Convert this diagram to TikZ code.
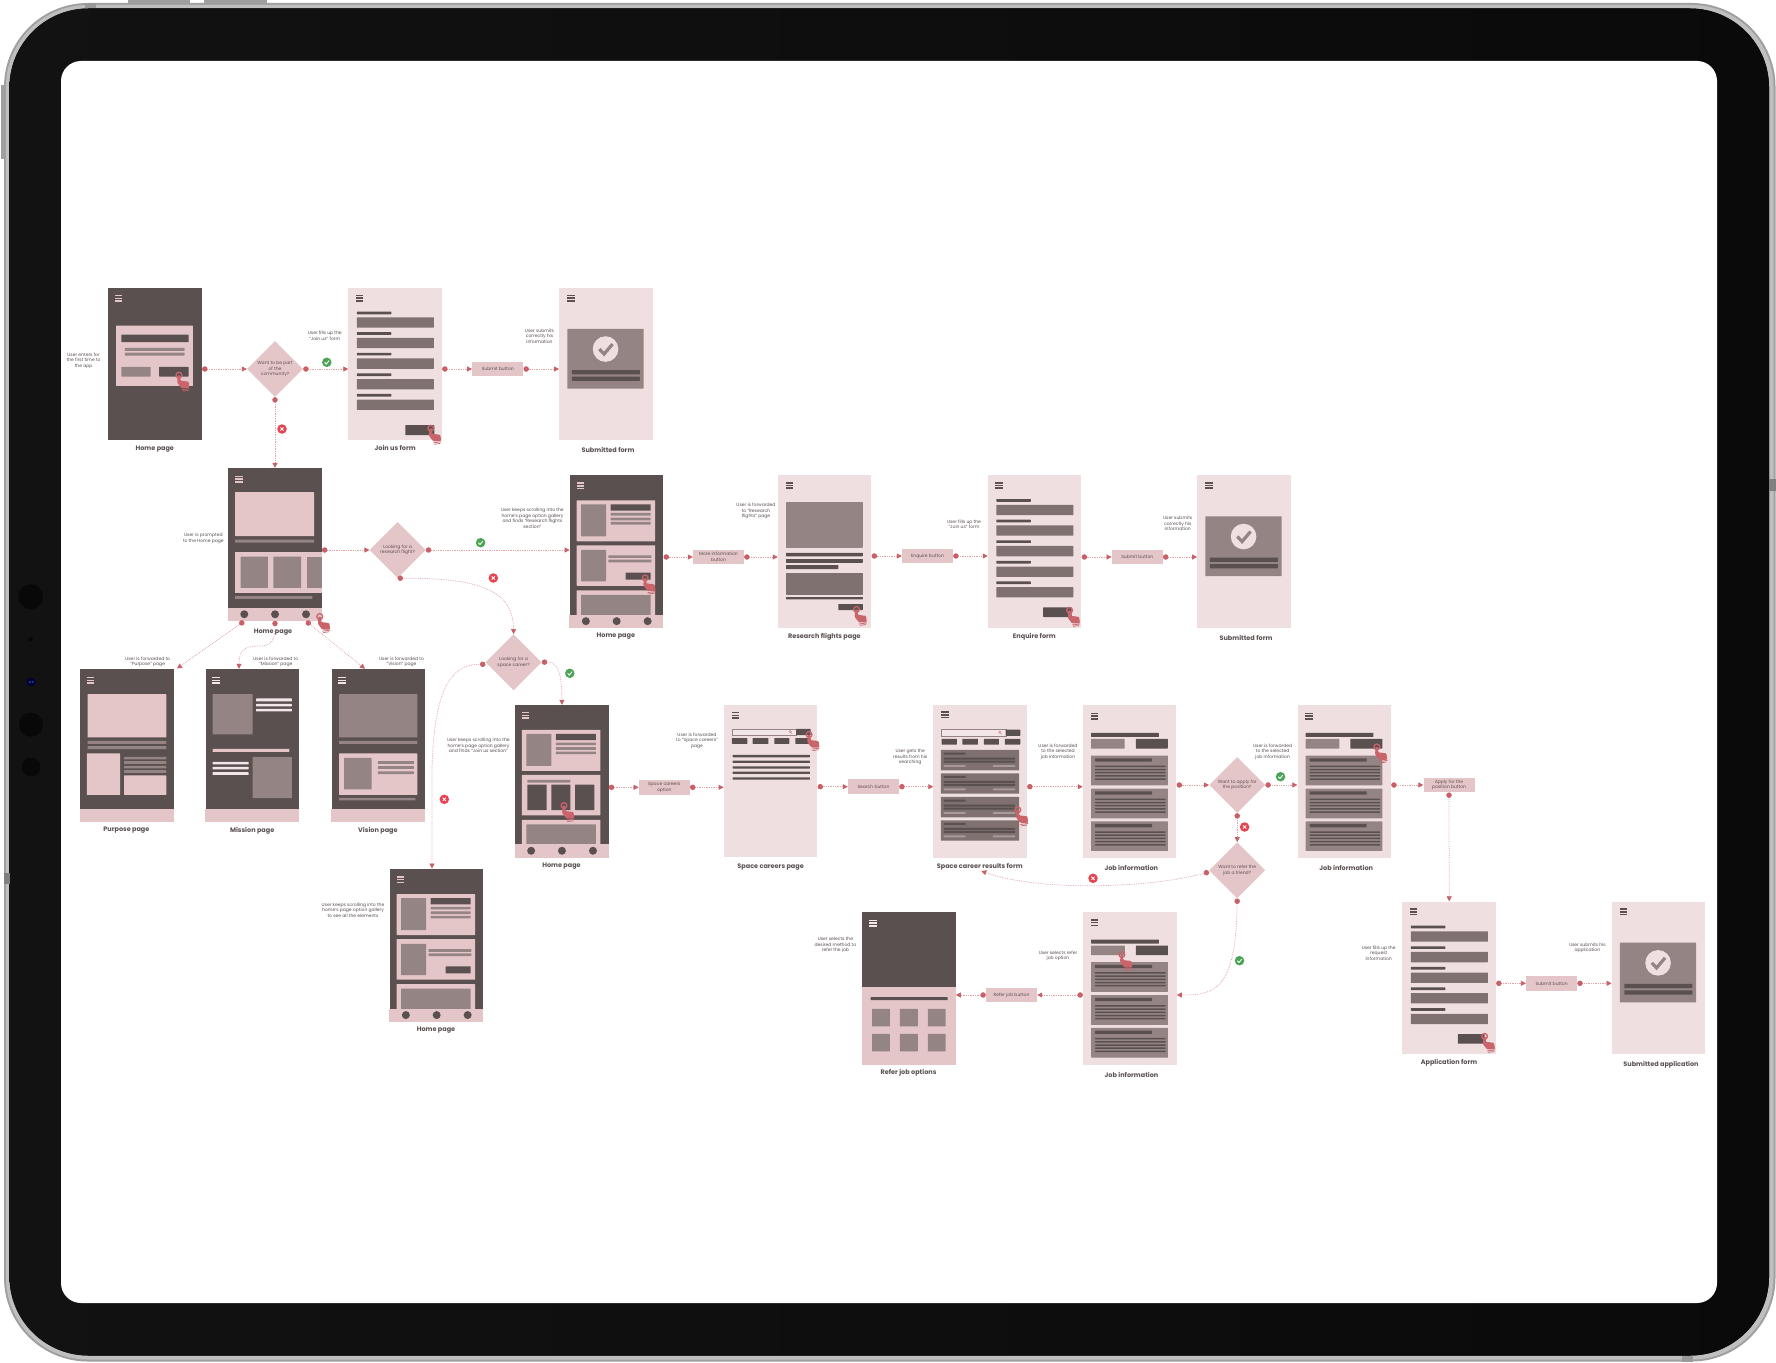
\documentclass[tikz,border=0pt]{standalone}
\usepackage{fontspec}
\setmainfont{Poppins}
\usepackage{tikz}
\usetikzlibrary{arrows.meta,shapes.geometric}

\definecolor{screendark}{HTML}{5A5050}
\definecolor{screenlight}{HTML}{EFDFE1}
\definecolor{pinkfill}{HTML}{E5C6C8}
\definecolor{graymid}{HTML}{958484}
\definecolor{graydeep}{HTML}{7F7170}
\definecolor{graysoft}{HTML}{A89A9A}
\definecolor{paleline}{HTML}{F3E6E8}
\definecolor{tapred}{HTML}{C8646A}
\definecolor{flowred}{HTML}{C95F67}
\definecolor{flowline}{HTML}{E2A4A9}
\definecolor{okgreen}{HTML}{4CA355}
\definecolor{nored}{HTML}{E6424F}

\tikzset{
    phone/.style={rectangle, inner sep=0pt, minimum width=93.5pt, minimum height=152.5pt},
    phonedark/.style={phone, fill=screendark},
    phonelight/.style={phone, fill=screenlight},
    decision/.style={diamond, aspect=1, inner sep=0pt, minimum size=56pt, fill=pinkfill, align=center,
        text=screendark, font=\fontsize{4.5}{5.5}\selectfont},
    action/.style={rectangle, inner sep=0pt, minimum width=51pt, minimum height=14.5pt, fill=pinkfill, align=center,
        text=screendark, font=\fontsize{4.5}{5.5}\selectfont},
    note/.style={inner sep=0pt, yshift=-0.5pt, align=center, text=screendark, font=\fontsize{4.5}{5.5}\selectfont},
    title/.style={inner sep=0pt, yshift=-1pt, text=screendark, font=\fontsize{6.5}{7.5}\selectfont\bfseries},
    flow/.style={draw=flowline, line width=0.75pt, densely dotted,
        {Circle[length=5.4pt,color=flowred,fill=flowred]}-{Triangle[length=5pt,width=5pt,color=flowred,fill=flowred]}},
    okdot/.style={circle, inner sep=0pt, minimum size=9.5pt, fill=okgreen},
    nodot/.style={circle, inner sep=0pt, minimum size=9.5pt, fill=nored}
}

% one flat bar: colour, then two corners
\newcommand{\bx}[5]{\fill[#1, rounded corners=0.4pt] (#2,#3) rectangle (#4,#5);}
\newcommand{\burger}[3]{
    \fill[#3] (#1,#2) rectangle ++(7.5,1.6);
    \fill[#3] (#1,#2+2.7) rectangle ++(7.5,1.6);
    \fill[#3] (#1,#2+5.4) rectangle ++(7.5,1.6);
}
% the finger that taps
\newcommand{\tap}[2]{
    \begin{scope}[shift={(#1,#2)}]
        \draw[tapred, line width=1.3pt] (0,0) circle (2.9);
        \fill[tapred, rounded corners=1pt] (-1.3,0) -- (1.3,0) -- (1.3,5.5) -- (9.6,6.5) -- (10.4,13) -- (2.5,13) -- (-1.8,7.5) -- cycle;
        \draw[tapred, line width=0.7pt] (2.5,14.6) -- (10.5,13.6) (3.5,16) -- (9.5,15.2);
    \end{scope}
}
\newcommand{\yesmark}[3]{
    \node[okdot] (#1) at (#2,#3) {};
    \draw[white, line width=0.9pt] ([shift={(-2.2,0)}]#1.center) -- ++(1.6,1.8) -- ++(2.9,-3.4);
}
\newcommand{\nomark}[3]{
    \node[nodot] (#1) at (#2,#3) {};
    \draw[white, line width=0.8pt] ([shift={(-1.6,-1.6)}]#1.center) -- ++(3.2,3.2) ([shift={(-1.6,1.6)}]#1.center) -- ++(3.2,-3.2);
}
% footer with the three round tabs
\newcommand{\tabbar}[1]{
    \fill[pinkfill] (-0.2,#1) rectangle (93.7,152.7);
    \fill[screendark] (16.2,#1+6.4) circle (4);
    \fill[screendark] (47,#1+6.4) circle (4);
    \fill[screendark] (78,#1+6.4) circle (4);
}
% the gallery of the home page: first card, then a second one, then the one cut by the footer
\newcommand{\gallerytop}{
    \burger{7}{7}{pinkfill}
    \bx{pinkfill}{7}{25}{85.4}{66}
    \bx{graymid}{11.5}{29}{36.4}{61}
    \bx{screendark}{41}{29}{81}{35.3}
    \bx{graymid}{41}{37.7}{81}{40.3}
    \bx{graymid}{41}{42.3}{81}{45}
    \bx{graymid}{41}{46.7}{81}{49.3}
    \bx{pinkfill}{7}{70}{85.4}{110.5}
    \bx{pinkfill}{7}{115}{85.4}{140}
    \bx{graymid}{11.5}{119.5}{81}{140}
    \tabbar{139.5}
}
\newcommand{\galleryform}{
    \bx{graymid}{11.5}{74.7}{36.4}{106}
    \bx{graymid}{38.8}{80}{81.8}{82.7}
    \bx{graymid}{38.8}{84.3}{81.8}{87}
    \bx{screendark}{56}{97.3}{81}{104.3}
}
% a form with five rows
\newcommand{\formrow}[1]{
    \bx{screendark}{8.6}{#1}{43}{#1+2.7}
    \bx{graydeep}{8.6}{#1+5.7}{85.6}{#1+16}
}
\newcommand{\formscreen}[1]{
    \burger{7.5}{7}{screendark}
    \formrow{#1}
    \formrow{#1+20.6}
    \formrow{#1+41.2}
    \formrow{#1+61.8}
    \formrow{#1+82.4}
}
% confirmation panel with the check
\newcommand{\donepanel}{
    \burger{8}{7}{screendark}
    \bx{graymid}{8.3}{41.3}{84.6}{101}
    \fill[screenlight] (46.5,61.5) circle (12.8);
    \draw[graymid, line width=3.2pt] (40.3,61.5) -- (45,66.5) -- (53.5,56.5);
    \bx{screendark}{12.7}{82.5}{80.8}{86.7}
    \bx{screendark}{12.7}{89}{80.8}{93.2}
}
% search field and the tabs under it
\newcommand{\searchrow}{
    \fill[paleline] (8.3,24.3) rectangle (72.4,30.5);
    \draw[graymid, line width=0.3pt] (8.3,24.3) rectangle (72.4,30.5);
    \draw[tapred, line width=0.3pt] (66.5,27) circle (1.2) (67.4,28) -- (68.4,29.2);
    \bx{screendark}{72.4}{24.3}{87}{30.5}
    \bx{screendark}{8.3}{33.5}{23.7}{39.3}
    \bx{screendark}{29}{33.5}{44.7}{39.3}
    \bx{screendark}{50.6}{33.5}{65.6}{39.3}
    \bx{screendark}{71.6}{33.5}{87}{39.3}
}
\newcommand{\resultcard}[1]{
    \bx{graydeep}{7.5}{#1}{85.8}{#1+20.4}
    \bx{screendark}{10.3}{#1+2.7}{32.4}{#1+4.7}
    \bx{screendark}{10.3}{#1+7.7}{81.9}{#1+9.7}
    \bx{screendark}{10.3}{#1+10.7}{81.9}{#1+12.7}
    \bx{graysoft}{10.3}{#1+15.2}{32.4}{#1+17}
    \bx{graysoft}{59.7}{#1+15.2}{81.9}{#1+17}
}
% the job page
\newcommand{\jobcard}[1]{
    \bx{graymid}{8.3}{#1}{85}{#1+29.7}
    \bx{screendark}{12.3}{#1+2.7}{69.3}{#1+6}
    \bx{screendark}{12.3}{#1+10}{82.8}{#1+11.5}
    \bx{screendark}{12.3}{#1+13.2}{82.8}{#1+14.7}
    \bx{screendark}{12.3}{#1+16.4}{82.8}{#1+17.9}
    \bx{screendark}{12.3}{#1+19.6}{82.8}{#1+21.1}
    \bx{screendark}{12.3}{#1+22.8}{82.8}{#1+24.3}
}
\newcommand{\jobscreen}{
    \burger{8}{7.3}{screendark}
    \bx{screendark}{8.3}{27.7}{76}{31.7}
    \bx{graymid}{8.3}{33.7}{41.9}{43.3}
    \bx{screendark}{53}{33.7}{85}{43.3}
    \jobcard{50.3}
    \jobcard{83.3}
    \jobcard{116}
}

\begin{document}
\begin{tikzpicture}[x=1pt,y=-1pt]
    \useasboundingbox (0,0) rectangle (1776,1362);
    \fill[white] (0,0) rectangle (1776,1362);

    % the side and top keys
    \fill[gray!75] (128,0.5) rectangle (190,5);
    \fill[gray!75] (204,0.5) rectangle (267,5);
    \fill[gray!75] (1,85) rectangle (6,159);

    % the tablet itself
    \fill[gray!75, rounded corners=84pt] (4,3) rectangle (1775.5,1361.5);
    \fill[gray!50, rounded corners=82pt] (6,5) rectangle (1773.5,1359.5);
    \fill[left color=black!93, right color=black!96, rounded corners=79pt] (9.5,8.5) rectangle (1769,1355.5);
    \fill[white, rounded corners=20pt] (61,61) rectangle (1717,1303);
    \fill[gray!80] (85,3) rectangle (96,8);
    \fill[gray!80] (1682,1355.5) rectangle (1693,1361.5);
    \fill[gray] (4,873) rectangle (9.5,884);
    \fill[gray] (1769,479) rectangle (1775.5,491);

    % the camera side
    \fill[black!97] (30.7,596.7) circle (12.5);
    \fill[black!97] (30.7,639) circle (2.5);
    \fill[black!97] (31,724.7) circle (12);
    \fill[black!97] (31,767) circle (9.5);
    \fill[black!80!blue] (31,682) circle (4.5);
    \fill[blue!60!cyan!70!black] (29.7,682) circle (1.2);
    \fill[blue!60!cyan!70!black] (32.6,682) circle (1.2);

    % the screens, row by row
    \node[phonedark] (home1) at (155.15,364) {};
    \node[phonelight] (joinform) at (395.2,364) {};
    \node[phonelight] (submitted1) at (606,364) {};
    \node[phonedark] (home2) at (275,544.3) {};
    \node[phonedark] (home3) at (616.6,551.7) {};
    \node[phonelight] (research) at (824.7,551.5) {};
    \node[phonelight] (enquire) at (1034.7,551.5) {};
    \node[phonelight] (submitted2) at (1244,551.5) {};
    \node[phonedark] (purpose) at (127,745.6) {};
    \node[phonedark] (mission) at (252.5,745.6) {};
    \node[phonedark] (vision) at (378.5,745.6) {};
    \node[phonedark] (home4) at (561.9,781.3) {};
    \node[phonelight] (careers) at (770.6,781) {};
    \node[phonelight] (results) at (980.2,781.7) {};
    \node[phonelight] (job1) at (1129.7,781.7) {};
    \node[phonelight] (job2) at (1344.3,781.7) {};
    \node[phonedark] (home5) at (436.6,945.6) {};
    \node[phonedark] (refer) at (908.8,988.5) {};
    \node[phonelight] (job3) at (1129.8,988.3) {};
    \node[phonelight] (appform) at (1449.2,977.8) {};
    \node[phonelight] (submitted3) at (1658.5,977.8) {};

    % what is on the screens
    \begin{scope}[shift={(home1.north west)}]
        \burger{6.7}{7.3}{pinkfill}
        \bx{pinkfill}{7.9}{38}{84.6}{98.3}
        \bx{screendark}{13.1}{47}{80.3}{54.6}
        \bx{graymid}{16.6}{60.3}{76.3}{63.3}
        \bx{graymid}{16.6}{65}{76.3}{68}
        \bx{graymid}{13.1}{79.3}{42.4}{89}
        \bx{screendark}{51}{79.3}{80.3}{89}
        \tap{70.8}{87.6}
    \end{scope}
    \begin{scope}[shift={(joinform.north west)}]
        \formscreen{24}
        \bx{screendark}{57}{137.6}{86}{147.6}
        \tap{82.5}{140.7}
    \end{scope}
    \begin{scope}[shift={(submitted1.north west)}]
        \donepanel
    \end{scope}
    \begin{scope}[shift={(home2.north west)}]
        \burger{7}{7.7}{pinkfill}
        \bx{pinkfill}{7}{24.3}{86}{68.3}
        \bx{graymid}{7}{71.7}{86}{74.7}
        \fill[pinkfill] (7,84.3) rectangle (93.7,124.7);
        \bx{graymid}{12.6}{88.7}{39.9}{120}
        \bx{graymid}{45.4}{88.7}{73}{120}
        \fill[graymid] (78.6,88.7) rectangle (93.7,120);
        \bx{graymid}{7}{128.3}{84.4}{131}
        \tabbar{140}
        \tap{91.7}{148.7}
    \end{scope}
    \begin{scope}[shift={(home3.north west)}]
        \gallerytop
        \galleryform
        \tap{75.5}{102.7}
    \end{scope}
    \begin{scope}[shift={(research.north west)}]
        \burger{8.2}{7}{screendark}
        \bx{graymid}{8.3}{27}{85}{72.7}
        \bx{screendark}{8.3}{77.7}{85}{81.3}
        \bx{screendark}{8.3}{84}{85}{87.7}
        \bx{screendark}{8.3}{90}{60.5}{94}
        \bx{graydeep}{8.3}{98}{85}{119.7}
        \bx{screendark}{8.3}{122}{85}{124.3}
        \bx{screendark}{60.5}{129}{85}{135}
        \tap{78.7}{134.3}
    \end{scope}
    \begin{scope}[shift={(enquire.north west)}]
        \formscreen{24}
        \bx{screendark}{55.4}{132.3}{83.8}{142}
        \tap{81.8}{135.3}
    \end{scope}
    \begin{scope}[shift={(submitted2.north west)}]
        \donepanel
    \end{scope}
    \begin{scope}[shift={(purpose.north west)}]
        \burger{6.9}{7.7}{pinkfill}
        \bx{pinkfill}{7.5}{25}{86.2}{68.3}
        \bx{graymid}{7.5}{71.7}{86.2}{74.7}
        \bx{graymid}{7.5}{77}{86.2}{80}
        \bx{pinkfill}{6.7}{84.3}{40}{125.7}
        \bx{graymid}{44}{87.7}{86.2}{90.3}
        \bx{graymid}{44}{92}{86.2}{94.7}
        \bx{graymid}{44}{96.7}{86.2}{99.3}
        \bx{graymid}{44}{101}{86.2}{103.7}
        \bx{pinkfill}{44}{106.3}{86.2}{125.7}
        \fill[pinkfill] (-0.2,140) rectangle (93.7,152.7);
    \end{scope}
    \begin{scope}[shift={(mission.north west)}]
        \burger{6.9}{7.7}{paleline}
        \bx{graymid}{7.1}{25}{47}{65.3}
        \bx{paleline}{50.6}{29.3}{86.2}{32.3}
        \bx{paleline}{50.6}{34.7}{86.2}{37.3}
        \bx{paleline}{50.6}{39.7}{86.2}{42.3}
        \bx{pinkfill}{7.1}{79.7}{83.8}{82.7}
        \bx{paleline}{7.1}{92.7}{43}{95.3}
        \bx{paleline}{7.1}{97.7}{43}{100.3}
        \bx{paleline}{7.1}{103}{43}{105.7}
        \bx{graymid}{47}{88}{86.2}{129}
        \fill[pinkfill] (-0.2,140) rectangle (93.7,152.7);
    \end{scope}
    \begin{scope}[shift={(vision.north west)}]
        \burger{6.9}{7.7}{paleline}
        \bx{graymid}{7.5}{25}{85.8}{68.3}
        \bx{graymid}{7.5}{71.7}{85.8}{74.7}
        \bx{pinkfill}{7.5}{84.3}{85.8}{125.7}
        \bx{graymid}{12.6}{88.7}{40}{120.3}
        \bx{graymid}{46.3}{92}{82.3}{94.7}
        \bx{graymid}{46.3}{97}{82.3}{99.7}
        \bx{graymid}{46.3}{102.3}{82.3}{105}
        \bx{graymid}{7.5}{128.7}{83.8}{131.3}
        \fill[pinkfill] (-0.2,140) rectangle (93.7,152.7);
    \end{scope}
    \begin{scope}[shift={(home4.north west)}]
        \gallerytop
        \bx{graymid}{12.3}{75}{55.4}{77.7}
        \bx{screendark}{12.3}{79.7}{31.6}{105.3}
        \bx{screendark}{36.4}{79.7}{55.4}{105.3}
        \bx{screendark}{60.1}{79.7}{79.5}{105.3}
        \tap{49}{100.7}
    \end{scope}
    \begin{scope}[shift={(careers.north west)}]
        \burger{7.9}{7.3}{screendark}
        \searchrow
        \bx{screendark}{9}{50.3}{86.2}{52.7}
        \bx{screendark}{9}{56}{86.2}{58.3}
        \bx{screendark}{9}{61.7}{86.2}{64}
        \bx{screendark}{9}{67}{86.2}{69.3}
        \bx{screendark}{9}{72.7}{86.2}{75}
        \tap{85.4}{30}
    \end{scope}
    \begin{scope}[shift={(results.north west)}]
        \burger{8}{6}{screendark}
        \searchrow
        \resultcard{44.7}
        \resultcard{68}
        \resultcard{91.7}
        \resultcard{115}
        \tap{84.5}{104.6}
    \end{scope}
    \begin{scope}[shift={(job1.north west)}]
        \jobscreen
    \end{scope}
    \begin{scope}[shift={(job2.north west)}]
        \jobscreen
        \tap{79.5}{41.6}
    \end{scope}
    \begin{scope}[shift={(home5.north west)}]
        \gallerytop
        \galleryform
    \end{scope}
    \begin{scope}[shift={(refer.north west)}]
        \burger{7.2}{7.7}{paleline}
        \fill[pinkfill] (-0.2,75.3) rectangle (93.7,152.7);
        \bx{screendark}{8.7}{85}{85.8}{88}
        \bx{graymid}{10.3}{96.7}{28}{114.3}
        \bx{graymid}{38}{96.7}{56}{114.3}
        \bx{graymid}{66}{96.7}{83.8}{114.3}
        \bx{graymid}{10.3}{121.7}{28}{139.3}
        \bx{graymid}{38}{121.7}{56}{139.3}
        \bx{graymid}{66}{121.7}{83.8}{139.3}
    \end{scope}
    \begin{scope}[shift={(job3.north west)}]
        \jobscreen
        \tap{39}{42.7}
    \end{scope}
    \begin{scope}[shift={(appform.north west)}]
        \formscreen{24.3}
        \bx{screendark}{55.7}{132.7}{82.3}{142.3}
        \tap{82.3}{135}
    \end{scope}
    \begin{scope}[shift={(submitted3.north west)}]
        \donepanel
    \end{scope}

    % the questions
    \node[decision] (dia1) at (275,369) {Want to be part\\of the\\community?};
    \node[decision] (dia2) at (397.6,550) {Looking for a\\research flight?};
    \node[decision] (dia3) at (513.6,662.3) {Looking for a\\space career?};
    \node[decision] (dia4) at (1237.2,785) {Want to apply for\\the position?};
    \node[decision] (dia5) at (1237.2,870.3) {Want to refer the\\job a friend?};

    % the buttons between the screens
    \node[action] (submitbtn1) at (497.8,369) {Submit button};
    \node[action] (morebtn) at (718.5,557) {More information\\button};
    \node[action] (enquirebtn) at (927.5,556) {Enquire button};
    \node[action] (submitbtn2) at (1137.3,557) {Submit button};
    \node[action] (spacebtn) at (664.3,787.3) {Space careers\\option};
    \node[action] (searchbtn) at (873.5,786.7) {Search button};
    \node[action] (applybtn) at (1449,785) {Apply for the\\position button};
    \node[action] (referbtn) at (1011.5,995) {Refer job button};
    \node[action] (submitbtn3) at (1551.6,983.3) {Submit button};

    % here I just create the free ends of the arrows
    \coordinate (tabA) at (244,621.3);
    \coordinate (tabB) at (275,620.8);
    \coordinate (tabC) at (306.2,621.3);
    \coordinate (purposein) at (177,668.5);
    \coordinate (missionin) at (239,668.8);
    \coordinate (visionin) at (365,668.8);
    \coordinate (home5in) at (432,868.5);
    \coordinate (resultsin) at (981.3,871);

    % draw the arrows
    \draw[flow] (home1.east |- dia1.west) -- (dia1.west);
    \draw[flow] (dia1.east) -- (joinform.west |- dia1.east);
    \draw[flow] (joinform.east |- submitbtn1.west) -- (submitbtn1.west);
    \draw[flow] (submitbtn1.east) -- (submitted1.west |- submitbtn1.east);
    \draw[flow] (dia1.south) -- (home2.north);
    \draw[flow] (home2.east |- dia2.west) -- (dia2.west);
    \draw[flow] (dia2.east) -- (home3.west |- dia2.east);
    \draw[flow] (dia2.south) .. controls (480,578) and (513,590) .. (dia3.north);
    \draw[flow] (home3.east |- morebtn.west) -- (morebtn.west);
    \draw[flow] (morebtn.east) -- (research.west |- morebtn.east);
    \draw[flow] (research.east |- enquirebtn.west) -- (enquirebtn.west);
    \draw[flow] (enquirebtn.east) -- (enquire.west |- enquirebtn.east);
    \draw[flow] (enquire.east |- submitbtn2.west) -- (submitbtn2.west);
    \draw[flow] (submitbtn2.east) -- (submitted2.west |- submitbtn2.east);
    \draw[flow] (tabA) -- (purposein);
    \draw[flow] (tabB) .. controls (275,640) and (272,646) .. (260,646) .. controls (244,646) and (239,650) .. (missionin);
    \draw[flow] (tabC) -- (visionin);
    \draw[flow] ([yshift=-2pt]dia3.west) .. controls (450,664) and (434,690) .. (432,770) -- (home5in);
    \draw[flow] (dia3.east) .. controls (560,661) and (561.8,680) .. (home4.north);
    \draw[flow] (home4.east |- spacebtn.west) -- (spacebtn.west);
    \draw[flow] (spacebtn.east) -- (careers.west |- spacebtn.east);
    \draw[flow] (careers.east |- searchbtn.west) -- (searchbtn.west);
    \draw[flow] (searchbtn.east) -- (results.west |- searchbtn.east);
    \draw[flow] (results.east |- searchbtn.east) -- (job1.west |- searchbtn.east);
    \draw[flow] (job1.east |- dia4.west) -- (dia4.west);
    \draw[flow] (dia4.east) -- (job2.west |- dia4.east);
    \draw[flow] (job2.east |- applybtn.west) -- (applybtn.west);
    \draw[flow] (applybtn.south) -- (appform.north);
    \draw[flow] (dia4.south) -- (dia5.north);
    \draw[flow] ([yshift=-1.7pt]dia5.west) .. controls (1150,888) and (1040,892) .. (resultsin);
    \draw[flow] (dia5.south) .. controls (1236,990) and (1215,995) .. (job3.east |- referbtn.east);
    \draw[flow] (job3.west |- referbtn.east) -- (referbtn.east);
    \draw[flow] (referbtn.west) -- (refer.east |- referbtn.west);
    \draw[flow] (appform.east |- submitbtn3.west) -- (submitbtn3.west);
    \draw[flow] (submitbtn3.east) -- (submitted3.west |- submitbtn3.east);

    % the yes and no marks
    \yesmark{yesA}{326.8}{362.3}
    \nomark{noA}{282}{429}
    \yesmark{yesB}{480.6}{542.7}
    \nomark{noB}{493.3}{578}
    \yesmark{yesC}{569.8}{673.3}
    \nomark{noC}{444.3}{799.3}
    \yesmark{yesD}{1280.5}{776.7}
    \nomark{noD}{1244.6}{827}
    \nomark{noE}{1093}{878.3}
    \yesmark{yesE}{1239.5}{960.7}

    % the texts next to the screens
    \node[note] (noteA) at (83.6,360.3) {User enters for\\the first time to\\the app};
    \node[note] (noteB) at (324.8,335.3) {User fills up the\\"Join us" form};
    \node[note] (noteC) at (539.5,335.7) {User submits\\correctly his\\information};
    \node[note] (noteD) at (203.4,538) {User is prompted\\to the Home page};
    \node[note] (noteE) at (532.4,518) {User keeps scrolling into the\\home's page option gallery\\and finds "Research flights\\section"};
    \node[note] (noteF) at (147.7,661.3) {User is forwarded to\\"Purpose" page};
    \node[note] (noteG) at (275.8,661.3) {User is forwarded to\\"Mission" page};
    \node[note] (noteH) at (401.5,661.3) {User is forwarded to\\"Vision" page};
    \node[note] (noteI) at (478.4,745) {User keeps scrolling into the\\home's page option gallery\\and finds "Join us section"};
    \node[note] (noteJ) at (353,909.7) {User keeps scrolling into the\\home's page  option gallery\\to see all the elements};
    \node[note] (noteK) at (756,510.7) {User is forwarded\\to "Research\\flights" page};
    \node[note] (noteL) at (964,523.7) {User fills up the\\"Join us" form};
    \node[note] (noteM) at (1177.7,523.3) {User submits\\correctly his\\information};
    \node[note] (noteN) at (697,740) {User is forwarded\\to "Space careers"\\page};
    \node[note] (noteO) at (910.2,756.7) {User gets the\\results from his\\searching};
    \node[note] (noteP) at (1058,751) {User is forwarded\\to the selected\\job information};
    \node[note] (noteQ) at (1272.7,751) {User is forwarded\\to the selected\\job information};
    \node[note] (noteR) at (835.4,944.7) {User selects the\\desired method to\\refer the job};
    \node[note] (noteS) at (1058,955.3) {User selects refer\\job option};
    \node[note] (noteT) at (1378.7,952.7) {User fills up the\\request\\information};
    \node[note] (noteU) at (1587.3,947.3) {User submits his\\application};

    % the names under the screens
    \node[title] (titleA) at (154.8,447.7) {Home page};
    \node[title] (titleB) at (395.2,447) {Join us form};
    \node[title] (titleC) at (608,449) {Submitted form};
    \node[title] (titleD) at (273,631.3) {Home page};
    \node[title] (titleE) at (615.8,635.3) {Home page};
    \node[title] (titleF) at (824.4,635.7) {Research flights page};
    \node[title] (titleG) at (1034.4,635.3) {Enquire form};
    \node[title] (titleH) at (1246,637.3) {Submitted form};
    \node[title] (titleI) at (126.4,829.3) {Purpose page};
    \node[title] (titleJ) at (252.2,829.3) {Mission page};
    \node[title] (titleK) at (377.9,829.3) {Vision page};
    \node[title] (titleL) at (561.5,865) {Home page};
    \node[title] (titleM) at (770.6,865.7) {Space careers page};
    \node[title] (titleN) at (979.8,865.7) {Space career results form};
    \node[title] (titleO) at (1131.3,867.3) {Job information};
    \node[title] (titleP) at (1346.2,867.3) {Job information};
    \node[title] (titleQ) at (436,1029.3) {Home page};
    \node[title] (titleR) at (908.5,1071.7) {Refer job options};
    \node[title] (titleS) at (1131.5,1073.7) {Job information};
    \node[title] (titleT) at (1449,1061.3) {Application form};
    \node[title] (titleU) at (1661,1063.3) {Submitted application};

\end{tikzpicture}
\end{document}
